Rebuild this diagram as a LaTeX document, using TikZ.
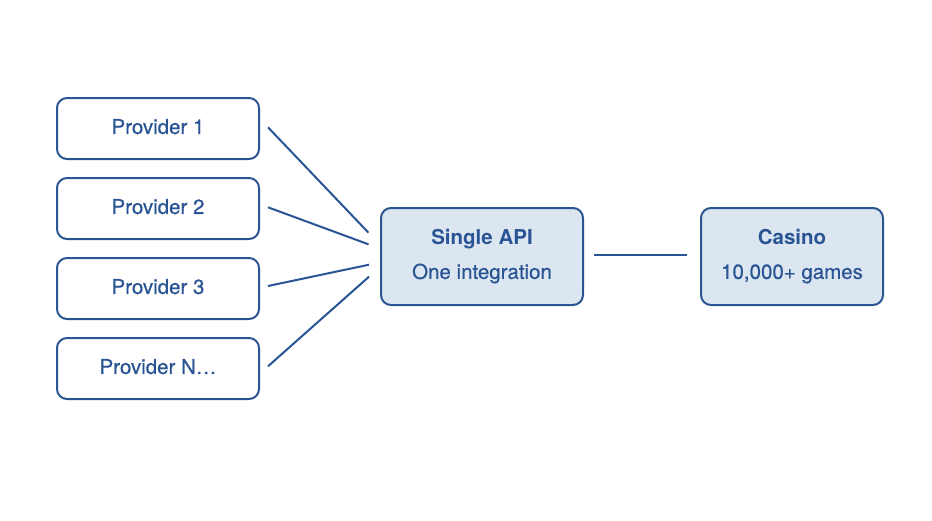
\documentclass[tikz,border=0pt]{standalone}
\usepackage{fontspec}
\setmainfont{TeX Gyre Heros}[UprightFeatures={FakeBold=0.6}]
\definecolor{ink}{HTML}{2A5595}
\definecolor{pale}{HTML}{DCE6F1}
\begin{document}
\begin{tikzpicture}[x=1pt,y=-1pt,
  box/.style={draw=ink,line width=2pt,rounded corners=10pt,text=ink,font=\fontsize{20.5}{24}\selectfont,align=center},
  conn/.style={draw=ink,line width=2pt}]
\useasboundingbox[fill=white] (0,0) rectangle (932,520);
\node[box,minimum width=202pt,minimum height=61pt] (p1) at (158,128.5) {\raisebox{4pt}{Provider 1}};
\node[box,minimum width=202pt,minimum height=61pt] (p2) at (158,208.5) {\raisebox{4pt}{Provider 2}};
\node[box,minimum width=202pt,minimum height=61pt] (p3) at (158,288.5) {\raisebox{4pt}{Provider 3}};
\node[box,minimum width=202pt,minimum height=61pt] (pn) at (158,368.5) {\raisebox{4pt}{Provider N\ldots}};
\node[box,fill=pale,minimum width=202pt,minimum height=97pt] (api) at (482,256.5) {\textbf{Single API}\\[10pt]One integration};
\node[box,fill=pale,minimum width=182pt,minimum height=97pt] (cas) at (792,256.5) {\textbf{Casino}\\[10pt]10,000+ games};
\draw[conn] ([xshift=8pt,yshift=1.2pt]p1.east) -- ([xshift=-11.5pt,yshift=23.8pt]api.west);
\draw[conn] ([xshift=8pt,yshift=1.2pt]p2.east) -- ([xshift=-11.5pt,yshift=12.2pt]api.west);
\draw[conn] ([xshift=8pt,yshift=2.5pt]p3.east) -- ([xshift=-11pt,yshift=-8.2pt]api.west);
\draw[conn] ([xshift=8pt,yshift=2.2pt]pn.east) -- ([xshift=-11pt,yshift=-20.2pt]api.west);
\draw[conn] ([xshift=10pt,yshift=1.5pt]api.east) -- ([xshift=-13pt,yshift=1.5pt]cas.west);
\end{tikzpicture}
\end{document}
